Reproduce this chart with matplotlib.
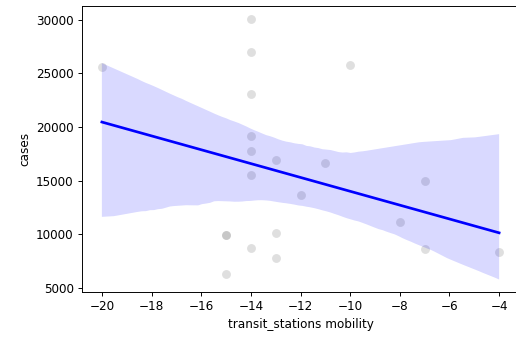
import numpy as np
import matplotlib
matplotlib.use("Agg")
import matplotlib.pyplot as plt
import seaborn as sns

# transit station mobility (% change) vs case counts
mobility = [-20, -15, -15, -15, -14, -14, -14, -14, -14, -14, -14,
            -13, -13, -13, -12, -11, -10, -8, -7, -7, -4]
cases = [25600, 9900, 9900, 6300, 30100, 27000, 23100, 19200, 17800, 15500, 8750,
         16900, 10100, 7800, 13700, 16600, 25800, 11100, 15000, 8600, 8300]

fig = plt.figure(figsize=(516 / 86, 343 / 86), dpi=86)
ax = fig.add_axes([82 / 516, 51.3 / 343, 437 / 516, 285.7 / 343])

sns.regplot(x=np.array(mobility), y=np.array(cases), ax=ax, color="blue",
            scatter_kws={"color": "grey", "alpha": 0.25, "s": 55, "linewidths": 0},
            seed=0)

ax.set_ylim(4630, 31300)
ax.set_xlabel("transit_stations mobility")
ax.set_ylabel("cases")

fig.savefig("out.png", dpi=86)
